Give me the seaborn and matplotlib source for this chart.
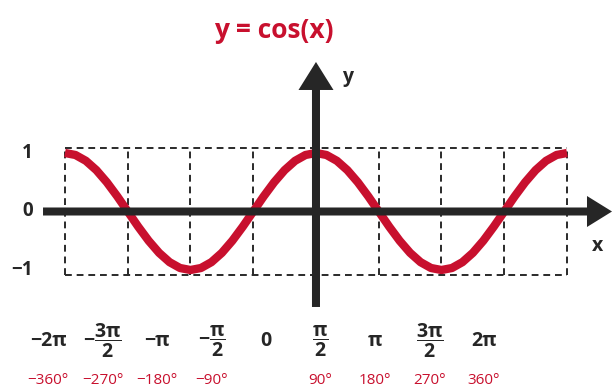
import numpy as np
import matplotlib
matplotlib.use("Agg")
from matplotlib import pyplot as plt
import seaborn as sns

# curve values, every 15 degrees
angle_deg = list(range(-360, 361, 15))
cos_values = [1, 0.966, 0.866, 0.707, 0.5, 0.259, 0, -0.259, -0.5, -0.707, -0.866, -0.966,
              -1, -0.966, -0.866, -0.707, -0.5, -0.259, 0, 0.259, 0.5, 0.707, 0.866, 0.966,
              1, 0.966, 0.866, 0.707, 0.5, 0.259, 0, -0.259, -0.5, -0.707, -0.866, -0.966,
              -1, -0.966, -0.866, -0.707, -0.5, -0.259, 0, 0.259, 0.5, 0.707, 0.866, 0.966, 1]

grid_deg = [-360, -270, -180, -90, 0, 90, 180, 270, 360]
y_ticks = [1, 0, -1]
y_tick_labels = ['1', '0', '\u22121']
pi_labels = ['\u22122\u03c0', r'$-\dfrac{3\pi}{2}$', '\u2212\u03c0', r'$-\dfrac{\pi}{2}$', '0',
             r'$\dfrac{\pi}{2}$', '\u03c0', r'$\dfrac{3\pi}{2}$', '2\u03c0']
deg_labels = ['\u2212360\u00b0', '\u2212270\u00b0', '\u2212180\u00b0', '\u221290\u00b0', '',
              '90\u00b0', '180\u00b0', '270\u00b0', '360\u00b0']

RED = '#c8102e'
DARK = '#262626'

sns.set_theme(style='white')
plt.rcParams['font.family'] = ['Open Sans', 'DejaVu Sans']
plt.rcParams['mathtext.fontset'] = 'custom'
plt.rcParams['mathtext.rm'] = 'Open Sans:bold'
plt.rcParams['mathtext.it'] = 'Open Sans:bold'
plt.rcParams['mathtext.bf'] = 'Open Sans:bold'
plt.rcParams['mathtext.sf'] = 'Open Sans:bold'

fig = plt.figure(figsize=(6.13, 3.9), dpi=100)
fig.patch.set_facecolor('white')
ax = fig.add_axes([0, 0, 1, 1])
ax.set_xlim(-453.2, 426.0)
ax.set_ylim(-3.051, 3.615)
ax.axis('off')

# dashed box grid
box = 1.08
ax.vlines(grid_deg, -box, box, colors='#2a2a2a', linestyles=(0, (3.5, 2.5)), lw=1.4, zorder=1)
ax.hlines([-box, box], -360, 360, colors='#2a2a2a', linestyles=(0, (3.5, 2.5)), lw=1.4, zorder=1)

# the curve
sns.lineplot(x=angle_deg, y=cos_values, ax=ax, color=RED, lw=6, zorder=2,
             solid_capstyle='butt', solid_joinstyle='round', legend=False)

# axes with arrow heads
ax.arrow(-391.5, 0, 424.6 + 391.5, 0, width=0.137, head_width=0.53, head_length=35.9,
         length_includes_head=True, fc=DARK, lw=0, zorder=3)
ax.arrow(0, -1.632, 0, 2.556 + 1.632, width=11.5, head_width=50.2, head_length=0.479,
         length_includes_head=True, fc=DARK, lw=0, zorder=3)

# y tick labels
ytr = ax.get_yaxis_transform()
for yv, lab in zip(y_ticks, y_tick_labels):
    ax.text(33 / 613, yv, lab, transform=ytr, ha='right', va='center',
            fontsize=13.5, fontweight='bold', color=DARK)

# bottom labels sit on their own even spacing
lab_ax = fig.add_axes([48 / 613, 0, (484 - 48) / 613, 1])
lab_ax.set_xlim(-360, 360)
lab_ax.set_ylim(0, 390)
lab_ax.axis('off')
for xv, pl, dl in zip(grid_deg, pi_labels, deg_labels):
    lab_ax.text(xv, 390 - 341, pl, ha='center', va='center', fontsize=14,
                fontweight='bold', color=DARK)
    lab_ax.text(xv, 390 - 380, dl, ha='center', va='center', fontsize=11, color=RED)

fig.text(274 / 613, 1 - 30 / 390, 'y = cos(x)', ha='center', va='center',
         fontsize=19, fontweight='bold', color=RED)
fig.text(348 / 613, 1 - 77 / 390, 'y', ha='center', va='center',
         fontsize=14, fontweight='bold', color=DARK)
fig.text(598 / 613, 1 - 246 / 390, 'x', ha='center', va='center',
         fontsize=14, fontweight='bold', color=DARK)

fig.savefig('out.png', dpi=100)
